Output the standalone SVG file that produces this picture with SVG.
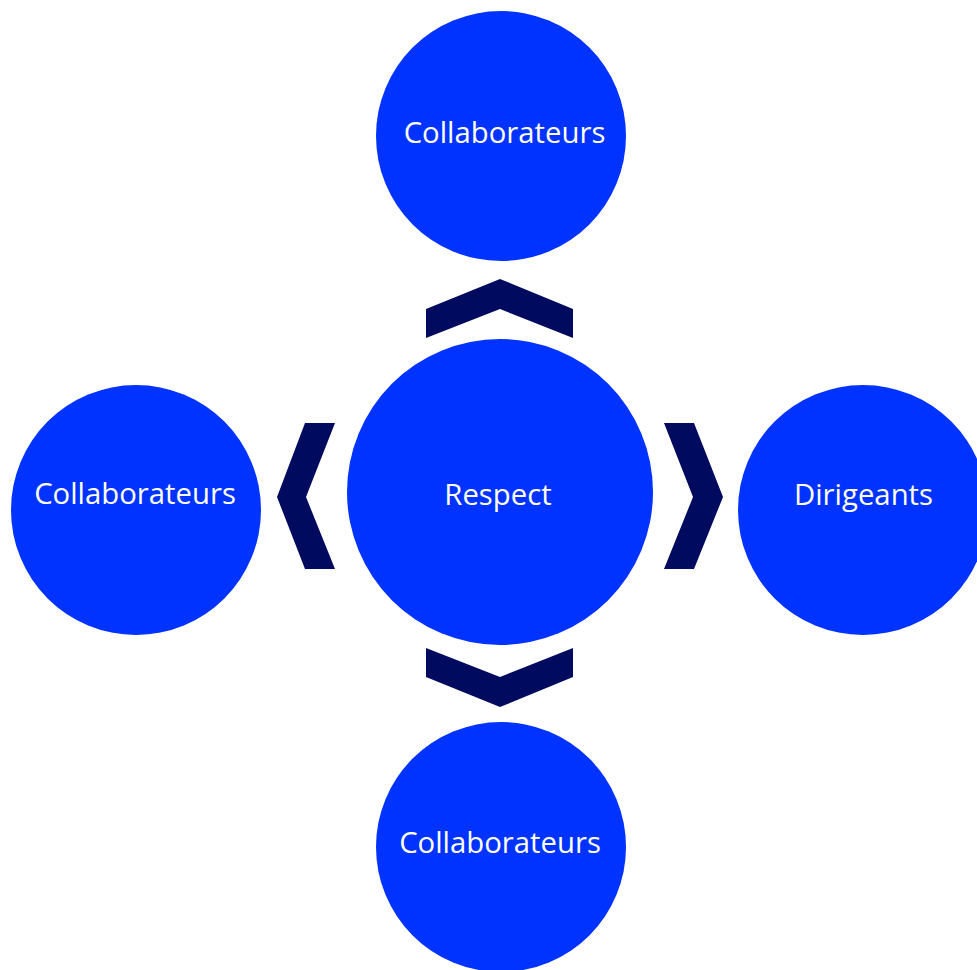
<svg xmlns="http://www.w3.org/2000/svg" width="977" height="970" viewBox="0 0 977 970">
<style>
.node{fill:#0033FF}
.lbl{fill:#FFFFFF;font-family:"Open Sans","Noto Sans",sans-serif;font-size:29.3px;text-anchor:middle}
.chev{fill:#000A5E}
</style>
<rect width="977" height="970" fill="#FFFFFF"/>
<g id="connectors">
<path class="chev" d="M426,309 L500,279 L573,309 L573,338 L500,309 L426,338 Z"/>
<path class="chev" d="M335,423 L305,423 L277,497 L305,569 L335,569 L306,497 Z"/>
<path class="chev" d="M664,423 L694,423 L723,497 L694,569 L664,569 L693,497 Z"/>
<path class="chev" d="M426,648 L500,677 L573,648 L573,677 L500,707 L426,677 Z"/>
</g>
<g id="node-top"><circle class="node" cx="501" cy="136" r="125"/><text class="lbl" x="504.5" y="143">Collaborateurs</text></g>
<g id="node-center"><circle class="node" cx="500" cy="492" r="153"/><text class="lbl" x="498" y="505">Respect</text></g>
<g id="node-left"><circle class="node" cx="136" cy="510" r="125"/><text class="lbl" x="135" y="504">Collaborateurs</text></g>
<g id="node-right"><circle class="node" cx="863" cy="510" r="125"/><text class="lbl" x="863.5" y="505">Dirigeants</text></g>
<g id="node-bottom"><circle class="node" cx="501" cy="847" r="125"/><text class="lbl" x="500" y="853">Collaborateurs</text></g>
</svg>
